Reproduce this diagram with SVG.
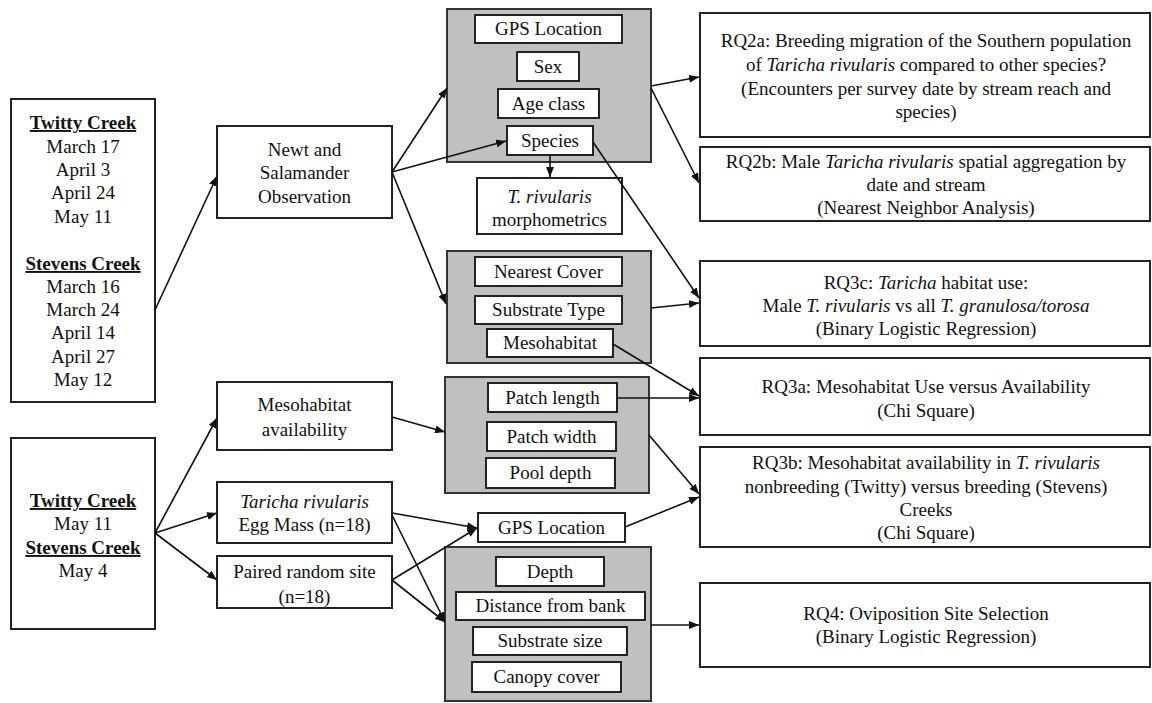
<svg xmlns="http://www.w3.org/2000/svg" width="1152" height="703" viewBox="0 0 1152 703">
<defs>
<marker id="ah" viewBox="0 0 10 8" refX="10" refY="4" markerWidth="10" markerHeight="8" markerUnits="userSpaceOnUse" orient="auto">
<path d="M0,0 L10,4 L0,8 z" fill="#111"/>
</marker>
<style>
.b{fill:#fff;stroke:#222;stroke-width:2}
.g{fill:#c0c0c0;stroke:#333;stroke-width:2}
.i{fill:#fff;stroke:#222;stroke-width:2}
text{font-family:"Liberation Serif","Times New Roman",serif;font-size:19px;fill:#111;text-anchor:middle}
.h{font-weight:bold;text-decoration:underline}
.it{font-style:italic}
.c line{stroke:#111;stroke-width:1.6;marker-end:url(#ah)}
</style>
</defs>
<rect width="1152" height="703" fill="#fff"/>

<g id="dates1">
<rect class="b" x="11" y="99" width="144" height="303"/>
<text x="83" y="129" class="h">Twitty Creek</text>
<text x="83" y="153">March 17</text>
<text x="83" y="176">April 3</text>
<text x="83" y="199">April 24</text>
<text x="83" y="223">May 11</text>
<text x="83" y="270" class="h">Stevens Creek</text>
<text x="83" y="293">March 16</text>
<text x="83" y="316">March 24</text>
<text x="83" y="339">April 14</text>
<text x="83" y="363">April 27</text>
<text x="83" y="386">May 12</text>
</g>

<g id="dates2">
<rect class="b" x="11" y="438" width="144" height="191"/>
<text x="83" y="507" class="h">Twitty Creek</text>
<text x="83" y="530">May 11</text>
<text x="83" y="554" class="h">Stevens Creek</text>
<text x="83" y="577">May 4</text>
</g>

<g id="newt">
<rect class="b" x="217" y="126" width="175" height="92"/>
<text x="304.5" y="156">Newt and</text>
<text x="304.5" y="179">Salamander</text>
<text x="304.5" y="203">Observation</text>
</g>

<g id="mesoavail">
<rect class="b" x="217" y="382" width="175" height="68"/>
<text x="304.5" y="411">Mesohabitat</text>
<text x="304.5" y="436">availability</text>
</g>

<g id="eggmass">
<rect class="b" x="217" y="482" width="175" height="61"/>
<text x="304.5" y="508" class="it">Taricha rivularis</text>
<text x="304.5" y="531">Egg Mass (n=18)</text>
</g>

<g id="paired">
<rect class="b" x="217" y="556" width="175" height="52"/>
<text x="304.5" y="578">Paired random site</text>
<text x="304.5" y="603">(n=18)</text>
</g>

<g id="grp1">
<rect class="g" x="447" y="9" width="204" height="153"/>
<rect class="i" x="475" y="15" width="147" height="28"/>
<text x="548.5" y="35">GPS Location</text>
<rect class="i" x="517" y="52" width="62" height="29"/>
<text x="548" y="72.5">Sex</text>
<rect class="i" x="498" y="89" width="101" height="29"/>
<text x="548.5" y="109.5">Age class</text>
<rect class="i" x="507" y="126" width="86" height="29"/>
<text x="550" y="146.5">Species</text>
</g>

<g id="morpho">
<rect class="b" x="477" y="178" width="145" height="56"/>
<text x="549.5" y="203" class="it">T. rivularis</text>
<text x="549.5" y="226">morphometrics</text>
</g>

<g id="grp2">
<rect class="g" x="447" y="251" width="204" height="112"/>
<rect class="i" x="475" y="257" width="147" height="29"/>
<text x="548.5" y="277.5">Nearest Cover</text>
<rect class="i" x="475" y="296" width="147" height="28"/>
<text x="548.5" y="316">Substrate Type</text>
<rect class="i" x="487" y="329" width="126" height="28"/>
<text x="550" y="349">Mesohabitat</text>
</g>

<g id="grp3">
<rect class="g" x="445" y="377" width="204" height="116"/>
<rect class="i" x="488" y="383" width="129" height="29"/>
<text x="552.5" y="403.5">Patch length</text>
<rect class="i" x="487" y="422" width="129" height="29"/>
<text x="551.5" y="442.5">Patch width</text>
<rect class="i" x="486" y="458" width="129" height="30"/>
<text x="550.5" y="479">Pool depth</text>
</g>

<g id="gps2">
<rect class="b" x="478" y="513" width="147" height="29"/>
<text x="551.5" y="533.5">GPS Location</text>
</g>

<g id="grp4">
<rect class="g" x="445" y="547" width="206" height="154"/>
<rect class="i" x="496" y="557" width="108" height="29"/>
<text x="550" y="577.5">Depth</text>
<rect class="i" x="456" y="592" width="189" height="28"/>
<text x="550.5" y="612">Distance from bank</text>
<rect class="i" x="473" y="627" width="154" height="28"/>
<text x="550" y="647">Substrate size</text>
<rect class="i" x="472" y="662" width="149" height="30"/>
<text x="546.5" y="683">Canopy cover</text>
</g>

<g id="rq2a">
<rect class="b" x="700" y="13" width="450" height="124"/>
<text x="926" y="47">RQ2a: Breeding migration of the Southern population</text>
<text x="926" y="71">of <tspan class="it">Taricha rivularis</tspan> compared to other species?</text>
<text x="926" y="95">(Encounters per survey date by stream reach and</text>
<text x="926" y="118">species)</text>
</g>

<g id="rq2b">
<rect class="b" x="700" y="147" width="450" height="74"/>
<text x="926" y="168">RQ2b: Male <tspan class="it">Taricha rivularis</tspan> spatial aggregation by</text>
<text x="926" y="191">date and stream</text>
<text x="926" y="214">(Nearest Neighbor Analysis)</text>
</g>

<g id="rq3c">
<rect class="b" x="700" y="261" width="450" height="85"/>
<text x="926" y="289">RQ3c: <tspan class="it">Taricha</tspan> habitat use:</text>
<text x="926" y="312">Male <tspan class="it">T. rivularis</tspan> vs all <tspan class="it">T. granulosa/torosa</tspan></text>
<text x="926" y="335">(Binary Logistic Regression)</text>
</g>

<g id="rq3a">
<rect class="b" x="700" y="358" width="450" height="77"/>
<text x="926" y="393">RQ3a: Mesohabitat Use versus Availability</text>
<text x="926" y="417">(Chi Square)</text>
</g>

<g id="rq3b">
<rect class="b" x="700" y="447" width="450" height="100"/>
<text x="926" y="469">RQ3b: Mesohabitat availability in <tspan class="it">T. rivularis</tspan></text>
<text x="926" y="493">nonbreeding (Twitty) versus breeding (Stevens)</text>
<text x="926" y="516">Creeks</text>
<text x="926" y="539">(Chi Square)</text>
</g>

<g id="rq4">
<rect class="b" x="700" y="583" width="450" height="84"/>
<text x="926" y="620">RQ4: Oviposition Site Selection</text>
<text x="926" y="643">(Binary Logistic Regression)</text>
</g>

<g id="connectors" class="c">
<line x1="155" y1="310" x2="217" y2="176"/>
<line x1="392" y1="172" x2="447" y2="88"/>
<line x1="392" y1="172" x2="506" y2="141"/>
<line x1="392" y1="172" x2="446" y2="304"/>
<line x1="550" y1="155" x2="550" y2="177"/>
<line x1="651" y1="86" x2="699" y2="77"/>
<line x1="651" y1="88" x2="699" y2="183"/>
<line x1="593" y1="142" x2="699" y2="298"/>
<line x1="651" y1="308" x2="699" y2="303"/>
<line x1="613" y1="344" x2="699" y2="396"/>
<line x1="617" y1="398" x2="699" y2="398"/>
<line x1="649" y1="435" x2="699" y2="494"/>
<line x1="625" y1="527" x2="699" y2="497"/>
<line x1="651" y1="625" x2="699" y2="625"/>
<line x1="155" y1="533" x2="217" y2="418"/>
<line x1="155" y1="533" x2="217" y2="513"/>
<line x1="155" y1="533" x2="217" y2="580"/>
<line x1="392" y1="417" x2="445" y2="432"/>
<line x1="392" y1="513" x2="477" y2="528"/>
<line x1="392" y1="515" x2="445" y2="622"/>
<line x1="392" y1="580" x2="477" y2="528"/>
<line x1="392" y1="580" x2="445" y2="622"/>
</g>
</svg>
